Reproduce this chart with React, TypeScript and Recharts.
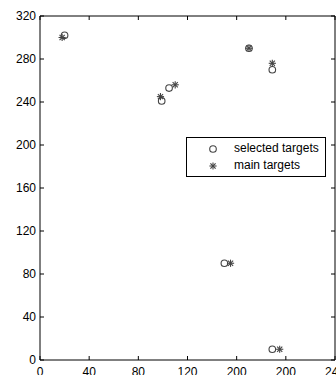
import React from 'react';
import { ScatterChart, Scatter, XAxis, YAxis, Legend } from 'recharts';

const xTicks = [0, 40, 80, 120, 160, 200, 240];
const xTickLabels = ['0', '40', '80', '120', '200', '200', '240'];
const yTicks = [0, 40, 80, 120, 160, 200, 240, 280, 320];
const yTickLabels = ['0', '40', '80', '120', '160', '200', '240', '280', '320'];

const selectedX = [20, 99, 105, 170, 189, 150, 189];
const selectedY = [302, 241, 253, 290, 270, 90, 10];
const mainX = [18, 98, 110, 170, 189, 155, 195];
const mainY = [300, 245, 256, 290, 276, 90, 10];

const seriesNames = ['selected targets', 'main targets'];

const selectedData = selectedX.map((x, i) => ({ x, y: selectedY[i] }));
const mainData = mainX.map((x, i) => ({ x, y: mainY[i] }));

const FONT = '"Liberation Sans", Arial, sans-serif';
const FS = 12;
const MARK = '#444';
const TL = 4;

const CircleShape = (p: any) => (
  <circle cx={p.cx} cy={p.cy} r={3.3} fill="none" stroke={MARK} strokeWidth={1.1} />
);

const StarShape = (p: any) => {
  const { cx, cy } = p;
  const r = 3.6;
  const d = r * 0.72;
  return (
    <g stroke={MARK} strokeWidth={1.1}>
      <line x1={cx} y1={cy - r} x2={cx} y2={cy + r} />
      <line x1={cx - r} y1={cy} x2={cx + r} y2={cy} />
      <line x1={cx - d} y1={cy - d} x2={cx + d} y2={cy + d} />
      <line x1={cx - d} y1={cy + d} x2={cx + d} y2={cy - d} />
    </g>
  );
};

const BottomTick = (p: any) => {
  const { x, y, payload } = p;
  const i = xTicks.indexOf(payload.value);
  return (
    <g>
      <line x1={x} y1={y} x2={x} y2={y - TL} stroke="#000" />
      <text x={x} y={y + 7} dy="0.71em" textAnchor="middle" fontSize={FS} fontFamily={FONT} fill="#000">
        {xTickLabels[i]}
      </text>
    </g>
  );
};

const TopTick = (p: any) => {
  const { x, y } = p;
  return <line x1={x} y1={y} x2={x} y2={y + TL} stroke="#000" />;
};

const LeftTick = (p: any) => {
  const { x, y, payload } = p;
  const i = yTicks.indexOf(payload.value);
  return (
    <g>
      <line x1={x} y1={y} x2={x + TL} y2={y} stroke="#000" />
      <text x={x - 4} y={y} dy="0.355em" textAnchor="end" fontSize={FS} fontFamily={FONT} fill="#000">
        {yTickLabels[i]}
      </text>
    </g>
  );
};

const RightTick = (p: any) => {
  const { x, y } = p;
  return <line x1={x} y1={y} x2={x - TL} y2={y} stroke="#000" />;
};

const LegendBox = () => (
  <div
    style={{
      width: 140,
      height: 40,
      border: '1px solid #000',
      background: '#fff',
      boxSizing: 'border-box',
      fontFamily: FONT,
      fontSize: FS,
      color: '#000',
      position: 'relative',
    }}
  >
    <svg width={20} height={39} style={{ position: 'absolute', left: 17, top: 0 }}>
      <CircleShape cx={9} cy={11} />
      <StarShape cx={9} cy={28} />
    </svg>
    <div style={{ position: 'absolute', left: 47, top: 2, lineHeight: '16px', whiteSpace: 'nowrap' }}>
      {seriesNames[0]}
    </div>
    <div style={{ position: 'absolute', left: 47, top: 19, lineHeight: '16px', whiteSpace: 'nowrap' }}>
      {seriesNames[1]}
    </div>
  </div>
);

export default function App() {
  return (
    <div style={{ position: 'absolute', left: 0, top: 0, width: 336, height: 375, overflow: 'hidden', background: '#fff' }}>
      <ScatterChart width={345} height={375} margin={{ top: 15, right: 9, bottom: 0, left: 0 }}>
        <XAxis
          xAxisId="b"
          type="number"
          dataKey="x"
          domain={[0, 240]}
          ticks={xTicks}
          orientation="bottom"
          height={15}
          tickSize={0}
          tickMargin={0}
          tickLine={false}
          axisLine={{ stroke: '#000' }}
          tick={<BottomTick />}
          interval={0}
          allowDataOverflow
        />
        <XAxis
          xAxisId="t"
          type="number"
          dataKey="x"
          domain={[0, 240]}
          ticks={xTicks}
          orientation="top"
          height={1}
          tickSize={0}
          tickMargin={0}
          tickLine={false}
          axisLine={{ stroke: '#000' }}
          tick={<TopTick />}
          interval={0}
          allowDataOverflow
        />
        <YAxis
          yAxisId="l"
          type="number"
          dataKey="y"
          domain={[0, 320]}
          ticks={yTicks}
          orientation="left"
          width={40}
          tickSize={0}
          tickMargin={0}
          tickLine={false}
          axisLine={{ stroke: '#000' }}
          tick={<LeftTick />}
          interval={0}
          allowDataOverflow
        />
        <YAxis
          yAxisId="r"
          type="number"
          dataKey="y"
          domain={[0, 320]}
          ticks={yTicks}
          orientation="right"
          width={1}
          tickSize={0}
          tickMargin={0}
          tickLine={false}
          axisLine={{ stroke: '#000' }}
          tick={<RightTick />}
          interval={0}
          allowDataOverflow
        />
        <Scatter name={seriesNames[0]} data={selectedData} xAxisId="b" yAxisId="l" shape={<CircleShape />} isAnimationActive={false} />
        <Scatter name={seriesNames[1]} data={mainData} xAxisId="t" yAxisId="r" shape={<StarShape />} isAnimationActive={false} />
        <Legend
          layout="vertical"
          align="center"
          verticalAlign="middle"
          content={<LegendBox />}
          wrapperStyle={{ position: 'absolute', left: 186, top: 137, width: 140, height: 40 }}
        />
      </ScatterChart>
    </div>
  );
}
